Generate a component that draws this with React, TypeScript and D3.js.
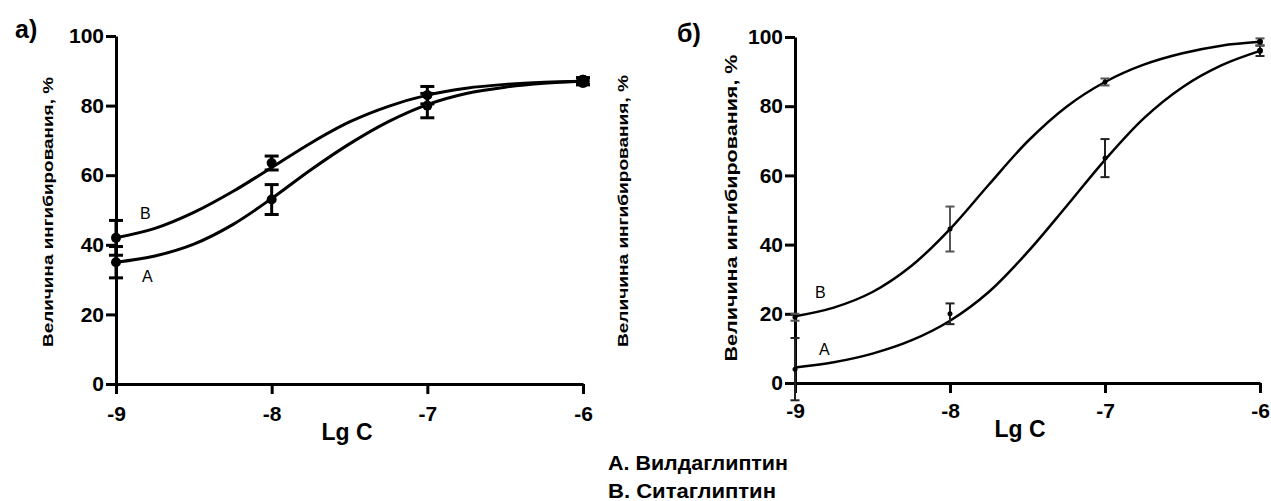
import React, { useEffect, useRef } from "react";
import * as d3 from "d3";

const doses = [-9, -8, -7, -6];
const xTicks = [-9, -8, -7, -6];
const yTicks = [0, 20, 40, 60, 80, 100];

// panel а) mean and error at each dose
const aVildaMean = [35, 53, 80, 87];
const aVildaErr = [4.5, 4.3, 3.5, 1];
const aSitaMean = [42, 63.5, 83, 87];
const aSitaErr = [5, 2, 2.5, 1];

// panel б)
const bVildaMean = [4, 20, 65, 96];
const bVildaErr = [9, 3, 5.5, 1.5];
const bSitaMean = [19, 44.5, 87, 98.6];
const bSitaErr = [1, 6.5, 1, 1];

// fitted curves
const curveX = [-9, -8.75, -8.5, -8.25, -8, -7.75, -7.5, -7.25, -7, -6.75, -6.5, -6.25, -6];
const aVildaCurve = [35, 36.8, 40.2, 45.8, 53.3, 61.5, 69, 75.4, 80.3, 83.5, 85.3, 86.4, 87];
const aSitaCurve = [42, 44.7, 49.3, 55.3, 62.2, 69.2, 75.3, 79.8, 83, 85, 86.1, 86.7, 87];
const bVildaCurve = [4.5, 6, 8.5, 12.3, 18, 26.3, 37.8, 51, 64.5, 76.5, 85.5, 91.8, 96];
const bSitaCurve = [19.3, 21.8, 26.3, 33.8, 44.5, 57.3, 69.8, 79.8, 87, 92, 95.3, 97.5, 98.6];

const legendLines = ["А. Вилдаглиптин", "В. Ситаглиптин"];
const yLabel = "Величина ингибирования, %";
const xLabel = "Lg C";

const FONT = "'Liberation Sans', Arial, sans-serif";

function drawPanel(svg, p) {
  const x = d3.scaleLinear().domain([-9, -6]).range(p.xr);
  const y = d3.scaleLinear().domain([0, 100]).range(p.yr);
  const g = svg.append("g");

  const styleAxis = (a) => {
    a.select(".domain").attr("stroke-width", 3);
    a.selectAll(".tick line").attr("stroke-width", 3);
    a.selectAll("text")
      .attr("font-family", FONT)
      .attr("font-weight", "bold")
      .attr("font-size", 21)
      .attr("fill", "#000");
  };

  g.append("g")
    .attr("transform", `translate(0,${p.yr[0]})`)
    .call(
      d3
        .axisBottom(x)
        .tickValues(xTicks)
        .tickFormat((d) => String(d))
        .tickSize(10)
        .tickSizeOuter(0)
        .tickPadding(p.xPad)
    )
    .call(styleAxis);

  g.append("g")
    .attr("transform", `translate(${p.xr[0]},0)`)
    .call(
      d3
        .axisLeft(y)
        .tickValues(yTicks)
        .tickFormat((d) => String(d))
        .tickSize(10)
        .tickSizeOuter(0)
        .tickPadding(2)
    )
    .call(styleAxis);

  const line = d3
    .line()
    .x((d) => x(d[0]))
    .y((d) => y(d[1]))
    .curve(d3.curveCatmullRom.alpha(0.5));

  p.curves.forEach((c) => {
    g.append("path")
      .attr("d", line(curveX.map((v, i) => [v, c[i]])))
      .attr("fill", "none")
      .attr("stroke", "#000")
      .attr("stroke-width", p.lw);
  });

  p.series.forEach((s) => {
    const pts = doses.map((d, i) => ({ d, m: s.mean[i], e: s.err[i] }));
    const eb = g.append("g").attr("stroke", s.errColor).attr("stroke-width", p.ew);
    eb.selectAll(".v")
      .data(pts)
      .join("line")
      .attr("x1", (d) => x(d.d))
      .attr("x2", (d) => x(d.d))
      .attr("y1", (d) => y(d.m - d.e))
      .attr("y2", (d) => y(d.m + d.e));
    [1, -1].forEach((sgn) => {
      eb.selectAll(".c" + sgn)
        .data(pts)
        .join("line")
        .attr("x1", (d) => x(d.d) - p.cap / 2)
        .attr("x2", (d) => x(d.d) + p.cap / 2)
        .attr("y1", (d) => y(d.m + sgn * d.e))
        .attr("y2", (d) => y(d.m + sgn * d.e));
    });
    g.append("g")
      .selectAll("circle")
      .data(pts)
      .join("circle")
      .attr("cx", (d) => x(d.d))
      .attr("cy", (d) => y(d.m))
      .attr("r", (d) => (d.d === -6 ? p.rEnd : p.r))
      .attr("fill", "#000");
  });

  p.curveLabels.forEach((l) => {
    g.append("text")
      .attr("x", l.x)
      .attr("y", l.y)
      .attr("font-family", FONT)
      .attr("font-size", 16)
      .text(l.t);
  });

  g.append("text")
    .attr("x", p.xLabelX)
    .attr("y", p.xLabelY)
    .attr("text-anchor", "middle")
    .attr("font-family", FONT)
    .attr("font-weight", "bold")
    .attr("font-size", 23)
    .text(xLabel);

  g.append("text")
    .attr("x", p.tagX)
    .attr("y", p.tagY)
    .attr("font-family", FONT)
    .attr("font-weight", "bold")
    .attr("font-size", 25)
    .text(p.tag);
}

function drawYLabel(svg, bx, cy, len, size) {
  svg
    .append("text")
    .attr("transform", `translate(${bx},${cy}) rotate(-90)`)
    .attr("text-anchor", "middle")
    .attr("font-family", FONT)
    .attr("font-weight", "bold")
    .attr("font-size", size)
    .attr("textLength", len)
    .attr("lengthAdjust", "spacingAndGlyphs")
    .text(yLabel);
}

export default function App() {
  const ref = useRef(null);

  useEffect(() => {
    const svg = d3.select(ref.current);
    svg.selectAll("*").remove();

    drawPanel(svg, {
      xr: [116, 583],
      yr: [384, 36],
      xPad: 12,
      lw: 3,
      ew: 3,
      cap: 14,
      r: 5,
      rEnd: 6.5,
      curves: [aVildaCurve, aSitaCurve],
      series: [
        { mean: aVildaMean, err: aVildaErr, errColor: "#000" },
        { mean: aSitaMean, err: aSitaErr, errColor: "#000" },
      ],
      curveLabels: [
        { t: "В", x: 140, y: 219 },
        { t: "А", x: 142, y: 282 },
      ],
      xLabelX: 347,
      xLabelY: 440,
      tag: "а)",
      tagX: 15,
      tagY: 38,
    });

    drawPanel(svg, {
      xr: [795, 1260],
      yr: [383, 37],
      xPad: 10,
      lw: 2.5,
      ew: 2,
      cap: 9,
      r: 2.5,
      rEnd: 3,
      curves: [bVildaCurve, bSitaCurve],
      series: [
        { mean: bVildaMean, err: bVildaErr, errColor: "#222" },
        { mean: bSitaMean, err: bSitaErr, errColor: "#555" },
      ],
      curveLabels: [
        { t: "В", x: 815, y: 298 },
        { t: "А", x: 819, y: 355 },
      ],
      xLabelX: 1020,
      xLabelY: 437,
      tag: "б)",
      tagX: 677,
      tagY: 42,
    });

    drawYLabel(svg, 53, 212, 270, 15);
    drawYLabel(svg, 628, 211, 272, 15);
    drawYLabel(svg, 737, 208, 307, 16);

    svg
      .append("g")
      .selectAll("text")
      .data(legendLines)
      .join("text")
      .attr("x", 608)
      .attr("y", (d, i) => 470 + i * 28)
      .attr("font-family", FONT)
      .attr("font-weight", "bold")
      .attr("font-size", 21)
      .attr("textLength", (d, i) => (i === 0 ? 180 : 168))
      .attr("lengthAdjust", "spacingAndGlyphs")
      .text((d) => d);
  }, []);

  return (
    <svg
      ref={ref}
      width={1271}
      height={501}
      style={{ position: "absolute", left: 0, top: 0, background: "#fff" }}
    />
  );
}
